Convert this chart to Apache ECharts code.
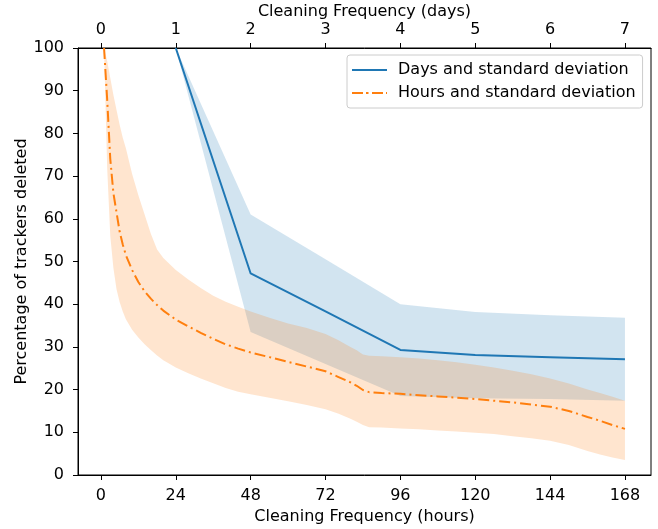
<!DOCTYPE html>
<html>
<head>
<meta charset="utf-8">
<script src="https://cdn.jsdelivr.net/npm/echarts@6/dist/echarts.min.js"></script>
<style>
html,body{margin:0;padding:0;background:#fff;}
#chart{width:658px;height:529px;}
</style>
</head>
<body>
<div id="chart"></div>
<script>
// ---- data ----
const dayTicks = [0, 1, 2, 3, 4, 5, 6, 7];
const hourTicks = [0, 24, 48, 72, 96, 120, 144, 168];

const days = [1, 2, 3, 4, 5, 6, 7];
const dayMean = [100, 47.2, 38.3, 29.3, 28.1, 27.6, 27.1];
const dayUpper = [100, 61.0, 50.5, 40.0, 38.2, 37.4, 36.8];
const dayLower = [100, 33.5, 26.0, 18.5, 18.0, 17.8, 17.4];

const hours = [1, 2, 3, 4, 5, 6, 7, 8, 10, 12, 14, 16, 18, 20, 24, 28, 32, 36, 40, 44, 48, 54, 60, 66, 72, 76, 80, 82, 84, 86, 90, 96, 102, 108, 114, 120, 126, 132, 138, 144, 150, 156, 160, 164, 168];
const hourMean = [100, 88, 74, 66, 61.5, 57, 54, 51.5, 48, 45.2, 43, 41.3, 39.8, 38.5, 36.4, 34.8, 33.3, 31.9, 30.6, 29.6, 28.7, 27.6, 26.5, 25.4, 24.3, 23.0, 21.7, 20.9, 19.9, 19.4, 19.2, 19.0, 18.7, 18.4, 18.1, 17.8, 17.4, 17.0, 16.5, 16.0, 15.0, 13.6, 12.7, 11.7, 10.8];
const hourUpper = [100, 97, 93, 89, 85.5, 82, 79, 76.5, 70.5, 65.5, 61, 56.5, 52.8, 50.8, 48, 45.8, 43.8, 42, 40.6, 39.4, 38.3, 36.8, 35.5, 34.4, 33.0, 31.6, 30.0, 29.2, 28.2, 27.9, 27.8, 27.6, 27.3, 26.9, 26.4, 25.8, 25.2, 24.4, 23.6, 22.6, 21.4, 20.0, 19.2, 18.3, 17.4];
const hourLower = [100, 72, 56, 48.5, 43.5, 40.5, 38.3, 36.5, 34, 32.2, 30.6, 29.3, 28, 26.9, 25.2, 23.8, 22.6, 21.5, 20.4, 19.5, 18.9, 18.1, 17.3, 16.4, 15.4, 14.4, 13.2, 12.5, 11.7, 11.2, 11.1, 10.9, 10.7, 10.4, 10.2, 9.9, 9.6, 9.1, 8.6, 8.0, 7.0, 5.6, 4.8, 4.1, 3.5];

const daysName = 'Days and standard deviation';
const hoursName = 'Hours and standard deviation';

// ---- chart ----
const BLUE = '#1f77b4';
const ORANGE = '#ff7f0e';
const FONT = 'DejaVu Sans';
const FS = 16;

function pairs(xs, ys) { return xs.map((x, i) => [x, ys[i]]); }

// band polygon drawn through the axis scales (api.coord)
function bandSeries(xs, lower, upper, axisIndex, color) {
  return {
    type: 'custom', xAxisIndex: axisIndex, silent: true, z: 1,
    data: xs.map((x, i) => [x, lower[i], upper[i]]),
    encode: {x: 0, y: [1, 2]},
    renderItem: function (params, api) {
      if (params.dataIndex !== 0) return null;
      const pts = [];
      for (let i = 0; i < xs.length; i++) pts.push(api.coord([xs[i], upper[i]]));
      for (let i = xs.length - 1; i >= 0; i--) pts.push(api.coord([xs[i], lower[i]]));
      return {
        type: 'polygon',
        shape: {points: pts},
        style: {fill: color, opacity: 0.2, stroke: null}
      };
    }
  };
}

// legend icons: thin line sample (solid) and dash-dot sample, in a 35x16 box
const solidIcon = 'path://M0,0L0.01,0L0,0.01Z M0,7L35,7L35,9L0,9Z M0,16L0.01,16L0,15.99Z';
const dashDotIcon = 'path://M0,0L0.01,0L0,0.01Z M0,7L11,7L11,9L0,9Z M14,7L16.5,7L16.5,9L14,9Z M20,7L31,7L31,9L20,9Z M34,7L35,7L35,9L34,9Z M0,16L0.01,16L0,15.99Z';

const hMin = -7.35, hMax = 176.35;

const chart = echarts.init(document.getElementById('chart'), null, {renderer: 'canvas'});
chart.setOption({
  animation: false,
  backgroundColor: '#fff',
  textStyle: {fontFamily: FONT, color: '#000'},
  grid: {left: 78, right: 7, top: 48, bottom: 54, show: true, borderColor: '#000', borderWidth: 1,
         backgroundColor: 'transparent', containLabel: false, outerBoundsMode: 'none'},
  legend: {
    data: [
      {name: daysName, icon: solidIcon},
      {name: hoursName, icon: dashDotIcon}
    ],
    orient: 'vertical',
    left: 347, top: 55,
    itemWidth: 35, itemHeight: 16, itemGap: 7,
    padding: [7, 7, 7, 5],
    borderColor: '#cccccc', borderWidth: 1, borderRadius: 3,
    backgroundColor: 'rgba(255,255,255,0.8)',
    textStyle: {fontFamily: FONT, fontSize: FS, color: '#000', padding: [0, 0, 0, 6]}
  },
  xAxis: [
    {
      type: 'value', position: 'bottom', min: hMin, max: hMax,
      name: 'Cleaning Frequency (hours)', nameLocation: 'middle', nameGap: 34, nameMoveOverlap: false,
      nameTextStyle: {fontFamily: FONT, fontSize: FS, color: '#000'},
      axisLine: {show: true, onZero: false, lineStyle: {color: '#000', width: 1}},
      axisTick: {show: true, length: 5, lineStyle: {color: '#000'}, customValues: hourTicks},
      axisLabel: {fontFamily: FONT, fontSize: FS, color: '#000', margin: 13, customValues: hourTicks},
      splitLine: {show: false}
    },
    {
      type: 'value', position: 'top', min: hMin / 24, max: hMax / 24,
      name: 'Cleaning Frequency (days)', nameLocation: 'middle', nameGap: 28, nameMoveOverlap: false,
      nameTextStyle: {fontFamily: FONT, fontSize: FS, color: '#000'},
      axisLine: {show: true, onZero: false, lineStyle: {color: '#000', width: 1}},
      axisTick: {show: true, length: 5, lineStyle: {color: '#000'}, customValues: dayTicks},
      axisLabel: {fontFamily: FONT, fontSize: FS, color: '#000', margin: 10, customValues: dayTicks},
      splitLine: {show: false}
    }
  ],
  yAxis: {
    type: 'value', min: 0, max: 100, interval: 10,
    name: 'Percentage of trackers deleted', nameLocation: 'middle', nameGap: 48, nameMoveOverlap: false,
    nameTextStyle: {fontFamily: FONT, fontSize: FS, color: '#000'},
    axisLine: {show: true, onZero: false, lineStyle: {color: '#000', width: 1}},
    axisTick: {show: true, length: 5, lineStyle: {color: '#000'}},
    axisLabel: {fontFamily: FONT, fontSize: FS, color: '#000', margin: 14},
    splitLine: {show: false}
  },
  series: [
    bandSeries(days, dayLower, dayUpper, 1, BLUE),
    bandSeries(hours, hourLower, hourUpper, 0, ORANGE),
    {
      name: daysName, type: 'line', xAxisIndex: 1,
      data: pairs(days, dayMean), symbol: 'none', color: BLUE,
      lineStyle: {color: BLUE, width: 2}, z: 3
    },
    {
      name: hoursName, type: 'line', xAxisIndex: 0,
      data: pairs(hours, hourMean), symbol: 'none', color: ORANGE,
      lineStyle: {color: ORANGE, width: 2, type: [11, 4, 2, 4]}, z: 3
    }
  ]
});
</script>
</body>
</html>
